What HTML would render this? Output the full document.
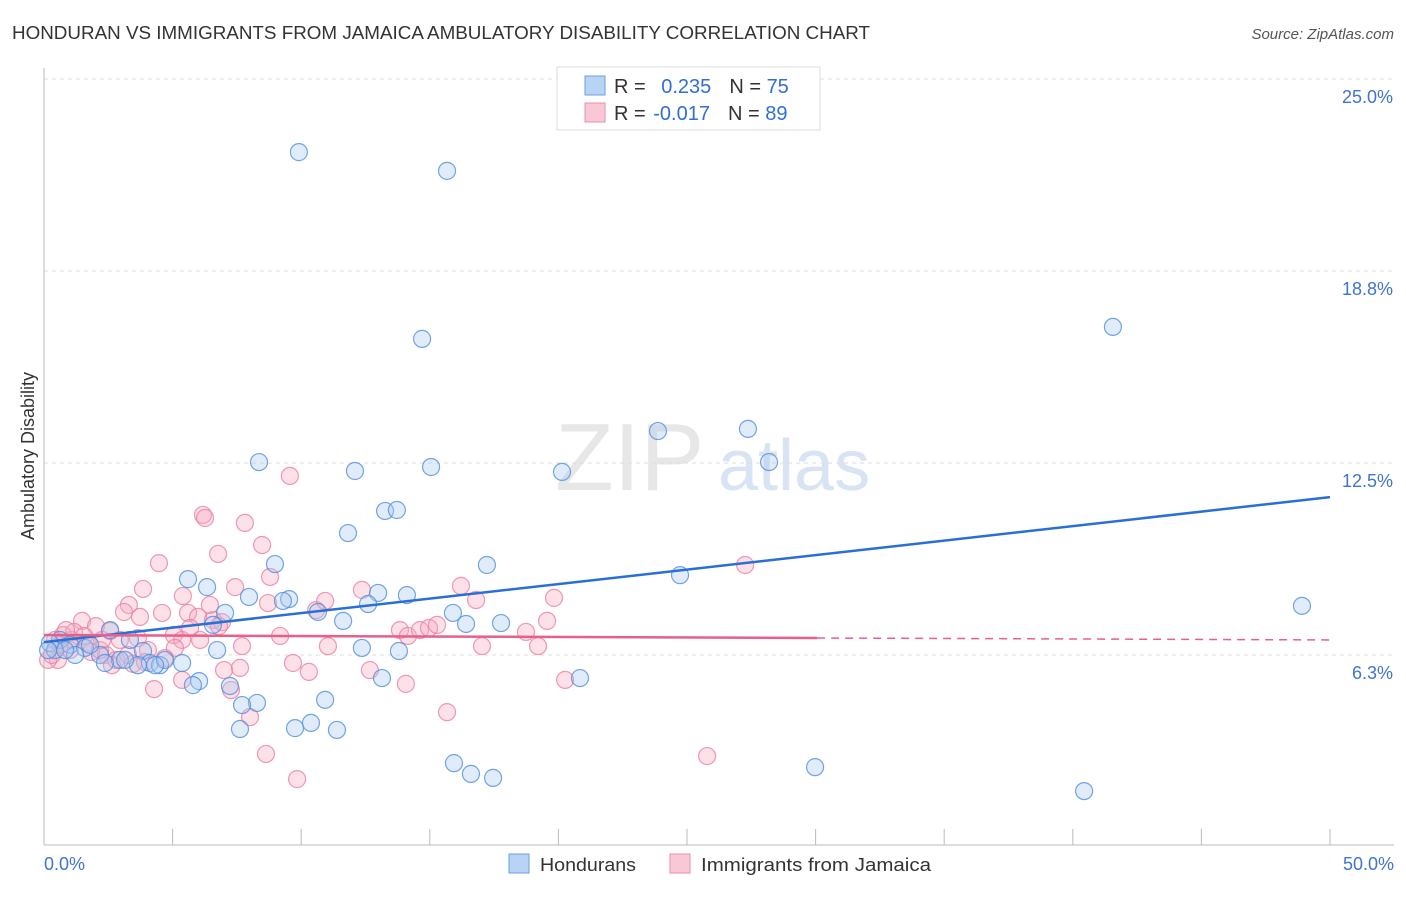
<!DOCTYPE html>
<html><head><meta charset="utf-8"><style>
body{margin:0;background:#fff;font-family:"Liberation Sans",sans-serif;}
svg text{font-family:"Liberation Sans",sans-serif;}
</style></head><body>
<svg id="chart" width="1406" height="892" viewBox="0 0 1406 892" xmlns="http://www.w3.org/2000/svg">
<text x="12" y="39" font-size="18" fill="#333" textLength="858" lengthAdjust="spacingAndGlyphs">HONDURAN VS IMMIGRANTS FROM JAMAICA AMBULATORY DISABILITY CORRELATION CHART</text>
<text x="1394" y="39" font-size="15" fill="#555" text-anchor="end" font-style="italic">Source: ZipAtlas.com</text>
<g>
<text x="555" y="490" font-size="96" fill="#ddd" font-family="Liberation Serif" opacity="0.7">ZIP</text>
<text x="718" y="490" font-size="72" fill="#c8d8ef" opacity="0.7">atlas</text>
</g>
<g id="grid"></g>
<g id="axes"></g>
<g id="pts"></g>
<g id="trends"></g>
<text transform="translate(34,456) rotate(-90)" font-size="18" fill="#333" text-anchor="middle">Ambulatory Disability</text>
<g>
<rect x="557" y="67" width="263" height="63" fill="#fff" stroke="#ddd"/>
<rect x="585" y="76" width="20" height="19" fill="#b9d3f5" stroke="#6a9fe0"/>
<rect x="585" y="103" width="20" height="19" fill="#f8c8d6" stroke="#ec8fab"/>
<text x="614" y="93" font-size="20" fill="#333">R = <tspan fill="#2f6fd6" dx="10">0.235</tspan><tspan dx="18" fill="#333">N = </tspan><tspan fill="#2f6fd6">75</tspan></text>
<text x="614" y="120" font-size="20" fill="#333">R = <tspan fill="#2f6fd6" dx="2">-0.017</tspan><tspan dx="18" fill="#333">N = </tspan><tspan fill="#2f6fd6">89</tspan></text>
</g>
<g>
<rect x="509" y="854" width="20" height="19" fill="#b9d3f5" stroke="#6a9fe0"/>
<text x="540" y="871" font-size="18" fill="#333" textLength="96" lengthAdjust="spacingAndGlyphs">Hondurans</text>
<rect x="670" y="854" width="20" height="19" fill="#f8c8d6" stroke="#ec8fab"/>
<text x="701" y="871" font-size="18" fill="#333" textLength="230" lengthAdjust="spacingAndGlyphs">Immigrants from Jamaica</text>
</g>
</svg>
<script>
const yTicks=[25,18.75,12.5,6.25];
const yTickLabels=["25.0%","18.8%","12.5%","6.3%"];
const xTickLabels=["0.0%","50.0%"];
const blueX=[9.91,15.67,14.70,41.56,23.87,27.37,28.19,8.36,12.09,15.05,20.14,13.26,13.72,11.82,17.22,8.98,5.60,6.34,24.73,7.97,9.53,9.29,12.99,14.11,12.60,10.65,7.04,15.90,16.41,17.77,11.63,48.91,6.57,2.57,3.34,6.73,12.36,13.80,3.85,0.62,1.01,1.59,2.18,2.95,4.12,4.51,4.70,5.37,2.37,3.65,1.21,0.23,0.43,13.14,20.84,6.03,5.79,7.23,10.93,8.28,7.70,7.62,9.76,10.38,11.39,15.94,16.60,17.46,29.98,40.44,1.79,0.82,0.16,3.15,4.32];
const blueY=[22.62,22.01,16.54,16.93,13.54,13.61,12.53,12.53,12.24,12.37,12.21,10.94,10.97,10.22,9.18,9.21,8.72,8.46,8.85,8.14,8.07,8.01,8.27,8.20,7.91,7.65,7.62,7.62,7.26,7.29,7.36,7.85,7.23,7.06,6.74,6.41,6.48,6.38,6.38,6.74,6.58,6.48,6.25,6.09,5.99,5.92,6.09,5.99,5.99,5.92,6.25,6.64,6.41,5.50,5.50,5.40,5.27,5.24,4.79,4.69,4.62,3.84,3.87,4.04,3.81,2.73,2.38,2.25,2.60,1.82,6.58,6.41,6.41,6.09,5.92];
const pinkX=[9.56,6.18,6.26,7.81,6.77,8.48,4.47,8.79,3.85,7.43,12.36,16.21,27.26,3.30,3.11,5.40,4.59,5.60,5.99,6.57,6.92,8.71,10.58,10.93,16.80,19.83,19.56,1.48,2.02,2.57,2.95,3.65,0.74,1.09,1.71,5.05,5.37,6.80,9.18,13.84,14.15,14.62,14.97,15.28,18.74,19.21,17.03,11.04,7.70,5.09,4.04,1.83,2.41,2.80,0.54,0.16,0.31,3.46,4.70,7.00,7.62,9.68,10.30,12.67,14.07,20.26,5.37,4.28,7.27,8.01,15.67,8.63,9.84,25.78,2.18,1.01,0.62,2.64,3.27,3.93,1.17,5.68,6.07,0.43,0.86,1.56,2.26,3.73,6.45];
const pinkY=[12.08,10.81,10.71,10.55,9.54,9.83,9.24,8.79,8.40,8.46,8.37,8.50,9.18,7.88,7.65,8.17,7.62,7.62,7.49,7.39,7.32,7.94,7.71,8.01,8.04,8.11,7.36,7.36,7.19,7.03,6.74,6.80,6.90,6.74,6.64,6.90,6.74,7.19,6.87,7.06,6.87,7.06,7.13,7.23,7.00,6.54,6.54,6.54,6.54,6.48,6.41,6.35,6.25,6.09,6.09,6.09,6.25,5.96,6.15,5.76,5.83,5.99,5.70,5.76,5.31,5.44,5.44,5.14,5.11,4.23,4.39,3.03,2.21,2.96,6.41,6.41,6.58,5.92,6.25,6.02,7.00,7.13,6.74,6.74,7.06,6.87,6.74,7.49,7.88];
const blueTrend=[6.67,11.39];
const pinkTrend=[6.90,6.74];
const pinkSolidEnd=30.06;

const NS="http://www.w3.org/2000/svg";
const X0=44,X1=1330,Y0=847,PXY=30.72;
const sx=v=>X0+(X1-X0)*v/50;
const sy=v=>Y0-v*PXY;
function mk(tag,attrs,parent){const e=document.createElementNS(NS,tag);for(const k in attrs)e.setAttribute(k,attrs[k]);parent.appendChild(e);return e;}
const grid=document.getElementById('grid'),axes=document.getElementById('axes');
yTicks.forEach((t,i)=>{
 const l=mk('line',{x1:X0,x2:1394,y1:sy(t),y2:sy(t),stroke:'#ddd','stroke-dasharray':'4,4'},grid);
 
 
 const tx=mk('text',{x:1393,y:sy(t)+24,'font-size':18,fill:'#3f74d0','text-anchor':'end'},grid);
 tx.textContent=yTickLabels[i];
 
 
});
const ax=mk('line',{x1:X0,x2:X0,y1:68,y2:845,stroke:'#bbb'},axes);


const bx=mk('line',{x1:X0,x2:1394,y1:845,y2:845,stroke:'#bbb'},axes);


for(let i=1;i<=10;i++){
 const t=mk('line',{x1:sx(i*5),x2:sx(i*5),y1:829,y2:845,stroke:'#bbb'},axes);
 
 
}
[[0,'start',44],[50,'end',1394]].forEach((d,i)=>{
 const tx=mk('text',{x:d[2],y:870,'font-size':18,fill:'#3f74d0','text-anchor':d[1]},axes);
 tx.textContent=xTickLabels[i];
 
 
});
const pts=document.getElementById('pts');
function draw(xs,ys,fill,stroke,name){
 xs.forEach((v,i)=>{
  const c=mk('circle',{cx:sx(v),cy:sy(ys[i]),r:8.5,fill:fill,'fill-opacity':0.35,stroke:stroke,'stroke-width':1.2,'stroke-opacity':0.8},pts);
  
  
 });
}
draw(pinkX,pinkY,'#f5a9c0','#ec7fa0','jamaica-point');
draw(blueX,blueY,'#a9c8f2','#4f8fe0','honduran-point');
const tr=document.getElementById('trends');
const b=mk('line',{x1:sx(0),y1:sy(blueTrend[0]),x2:sx(50),y2:sy(blueTrend[1]),stroke:'#2a6fd6','stroke-width':2.5},tr);


const pAt=v=>pinkTrend[0]+(pinkTrend[1]-pinkTrend[0])*v/50;
const p1=mk('line',{x1:sx(0),y1:sy(pinkTrend[0]),x2:sx(pinkSolidEnd),y2:sy(pAt(pinkSolidEnd)),stroke:'#e8608a','stroke-width':2.5},tr);


const p2=mk('line',{x1:sx(pinkSolidEnd),y1:sy(pAt(pinkSolidEnd)),x2:sx(50),y2:sy(pinkTrend[1]),stroke:'#e8608a','stroke-width':1.5,'stroke-dasharray':'8,6'},tr);


</script>
</body></html>
